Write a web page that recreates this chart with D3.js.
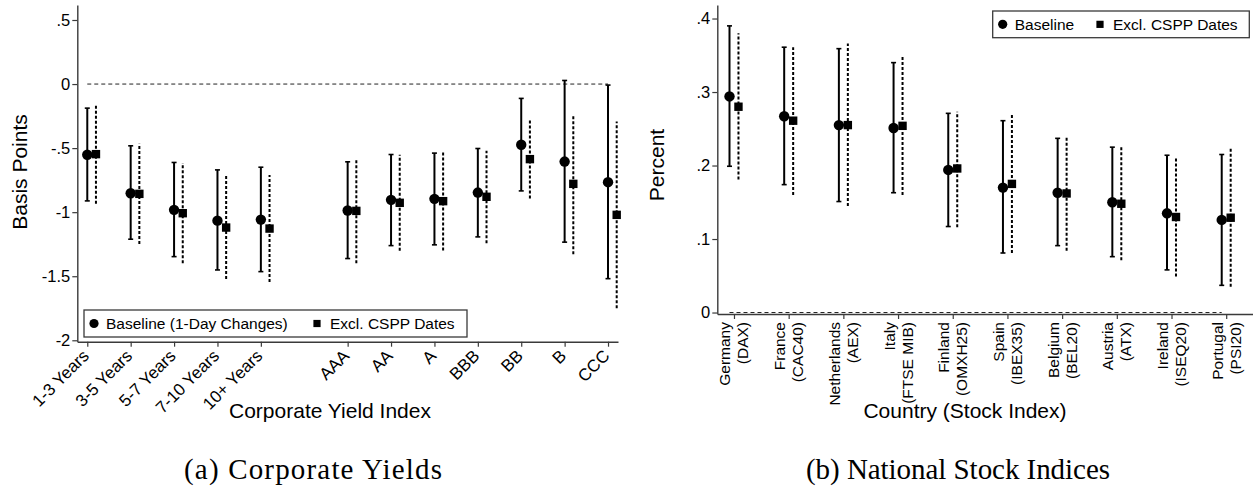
<!DOCTYPE html>
<html>
<head>
<meta charset="utf-8">
<script src="https://cdn.jsdelivr.net/npm/d3@7"></script>
<style>
  html, body { margin: 0; padding: 0; background: #fff; }
  svg { display: block; }
  .tick text { font-family: "Liberation Sans", Arial, sans-serif; fill: #000; }
</style>
</head>
<body>
<svg id="chart" width="1253" height="501"></svg>
<script>
// ---------- Panel (a): corporate yield indices ----------
const maturities = ["1-3 Years", "3-5 Years", "5-7 Years", "7-10 Years", "10+ Years"];
const ratings = ["AAA", "AA", "A", "BBB", "BB", "B", "CCC"];

const corpBase   = [-0.552, -0.852, -0.982, -1.066, -1.058, -0.987, -0.904, -0.896, -0.847, -0.474, -0.605, -0.766];
const corpBaseLo = [-0.912, -1.211, -1.347, -1.451, -1.464, -1.362, -1.261, -1.255, -1.193, -0.834, -1.234, -1.519];
const corpBaseHi = [-0.188, -0.482, -0.612, -0.670, -0.649, -0.607, -0.550, -0.539, -0.503, -0.112, 0.028, -0.008];
const corpExcl   = [-0.547, -0.857, -1.008, -1.120, -1.128, -0.990, -0.927, -0.914, -0.880, -0.586, -0.779, -1.021];
const corpExclLo = [-0.935, -1.248, -1.398, -1.521, -1.545, -1.398, -1.302, -1.300, -1.242, -0.894, -1.328, -1.750];
const corpExclHi = [-0.156, -0.466, -0.617, -0.716, -0.709, -0.589, -0.552, -0.531, -0.521, -0.279, -0.238, -0.292];

const corpTickValues = [0.5, 0, -0.5, -1, -1.5, -2];
const corpTickLabels = [".5", "0", "-.5", "-1", "-1.5", "-2"];

// ---------- Panel (b): national stock indices ----------
const countries = ["Germany", "France", "Netherlands", "Italy", "Finland", "Spain", "Belgium", "Austria", "Ireland", "Portugal"];
const stockIndices = ["(DAX)", "(CAC40)", "(AEX)", "(FTSE MIB)", "(OMXH25)", "(IBEX35)", "(BEL20)", "(ATX)", "(ISEQ20)", "(PSI20)"];

const stockBase   = [0.294, 0.267, 0.255, 0.251, 0.194, 0.170, 0.163, 0.150, 0.135, 0.126];
const stockBaseLo = [0.199, 0.174, 0.151, 0.163, 0.117, 0.081, 0.091, 0.076, 0.058, 0.037];
const stockBaseHi = [0.390, 0.361, 0.359, 0.340, 0.271, 0.261, 0.237, 0.225, 0.214, 0.215];
const stockExcl   = [0.280, 0.261, 0.255, 0.254, 0.196, 0.175, 0.162, 0.148, 0.130, 0.129];
const stockExclLo = [0.181, 0.160, 0.145, 0.160, 0.116, 0.081, 0.084, 0.071, 0.049, 0.035];
const stockExclHi = [0.380, 0.361, 0.366, 0.348, 0.273, 0.269, 0.240, 0.225, 0.211, 0.223];

const stockTickValues = [0, 0.1, 0.2, 0.3, 0.4];
const stockTickLabels = ["0", ".1", ".2", ".3", ".4"];

const legendA = ["Baseline (1-Day Changes)", "Excl. CSPP Dates"];
const legendB = ["Baseline", "Excl. CSPP Dates"];

// ---------- shared styling ----------
const SANS = "'Liberation Sans', Arial, Helvetica, sans-serif";
const SERIF = "'Liberation Serif', 'Times New Roman', serif";
const AXIS_COLOR = "#3a3a3a";
const INK = "#000";

const svg = d3.select("#chart");

function styleAxis(g) {
  g.select(".domain").attr("stroke", AXIS_COLOR).attr("stroke-width", 1.4);
  g.selectAll(".tick line").attr("stroke", AXIS_COLOR).attr("stroke-width", 1.2);
}

// Draw one pair of estimate series (circle + solid CI, square + dashed CI)
function drawSeries(g, xs, y, base, baseLo, baseHi, excl, exclLo, exclHi, offBase, offExcl) {
  const idx = d3.range(base.length);
  // baseline: solid capped intervals
  const b = g.append("g");
  b.selectAll("line.ci").data(idx).join("line")
    .attr("x1", i => xs(i) + offBase).attr("x2", i => xs(i) + offBase)
    .attr("y1", i => y(baseLo[i])).attr("y2", i => y(baseHi[i]))
    .attr("stroke", INK).attr("stroke-width", 2);
  ["lo", "hi"].forEach(k => {
    b.selectAll("line.cap" + k).data(idx).join("line")
      .attr("x1", i => xs(i) + offBase - 2.5).attr("x2", i => xs(i) + offBase + 2.5)
      .attr("y1", i => y(k === "lo" ? baseLo[i] : baseHi[i]))
      .attr("y2", i => y(k === "lo" ? baseLo[i] : baseHi[i]))
      .attr("stroke", INK).attr("stroke-width", 1.6);
  });
  // excluding CSPP dates: dashed intervals
  const e = g.append("g");
  e.selectAll("line").data(idx).join("line")
    .attr("x1", i => xs(i) + offExcl).attr("x2", i => xs(i) + offExcl)
    .attr("y1", i => y(exclLo[i])).attr("y2", i => y(exclHi[i]))
    .attr("stroke", INK).attr("stroke-width", 2).attr("stroke-dasharray", "3,2");
  // markers
  b.selectAll("circle").data(idx).join("circle")
    .attr("cx", i => xs(i) + offBase).attr("cy", i => y(base[i]))
    .attr("r", 5.2).attr("fill", INK);
  e.selectAll("rect").data(idx).join("rect")
    .attr("x", i => xs(i) + offExcl - 4.2).attr("y", i => y(excl[i]) - 4.2)
    .attr("width", 8.4).attr("height", 8.4).attr("fill", INK);
}

function drawLegend(g, x, y, w, h, labels, squareX) {
  g.append("rect").attr("x", x).attr("y", y).attr("width", w).attr("height", h)
    .attr("fill", "#fff").attr("stroke", AXIS_COLOR).attr("stroke-width", 1.3);
  const cy = y + h / 2;
  g.append("circle").attr("cx", x + 10).attr("cy", cy).attr("r", 4.6).attr("fill", INK);
  g.append("text").attr("x", x + 22).attr("y", cy).attr("dy", "0.36em")
    .attr("font-family", SANS).attr("font-size", 15.5).text(labels[0]);
  g.append("rect").attr("x", squareX - 3.6).attr("y", cy - 3.6).attr("width", 7.2).attr("height", 7.2).attr("fill", INK);
  g.append("text").attr("x", squareX + 13).attr("y", cy).attr("dy", "0.36em")
    .attr("font-family", SANS).attr("font-size", 15.5).text(labels[1]);
}

// ================= Panel (a) =================
{
  const g = svg.append("g");
  // slot positions: maturity buckets, one empty slot, then rating buckets
  const slots = maturities.map((d, i) => i).concat(ratings.map((d, i) => maturities.length + 1 + i));
  const labels = maturities.concat(ratings);
  const x = d3.scaleLinear().domain([-0.23, 12.23]).range([77.3, 618]);
  const xs = i => x(slots[i]);
  const y = d3.scaleLinear().domain([-2.011, 0.617]).range([341.7, 5]);

  // y axis
  const ya = g.append("g").attr("transform", "translate(77.3,0)")
    .call(d3.axisLeft(y).tickValues(corpTickValues).tickSize(5).tickSizeOuter(0)
      .tickFormat((d, i) => corpTickLabels[i]));
  styleAxis(ya);
  ya.selectAll(".tick text").attr("font-size", 16.5).attr("x", -7);

  // x axis
  const xa = g.append("g").attr("transform", "translate(0,341.7)")
    .call(d3.axisBottom(x).tickValues(slots).tickSize(5).tickSizeOuter(0).tickFormat(""));
  styleAxis(xa);
  xa.selectAll(".tick").append("text")
    .attr("transform", "translate(-2,11) rotate(-45)")
    .attr("text-anchor", "end").attr("dy", "0.35em")
    .attr("font-family", SANS).attr("font-size", 17).attr("fill", INK)
    .text((d, i) => labels[i]);

  // zero reference line
  g.append("line").attr("x1", xs(0)).attr("x2", xs(labels.length - 1))
    .attr("y1", y(0)).attr("y2", y(0))
    .attr("stroke", "#222").attr("stroke-width", 1).attr("stroke-dasharray", "4,3");

  drawSeries(g, xs, y, corpBase, corpBaseLo, corpBaseHi, corpExcl, corpExclLo, corpExclHi, 0, x(0.2) - x(0));

  drawLegend(g, 84, 310, 383, 27, legendA, 317);

  g.append("text").attr("transform", "translate(27,172) rotate(-90)")
    .attr("text-anchor", "middle").attr("font-family", SANS).attr("font-size", 21).text("Basis Points");
  g.append("text").attr("x", 330).attr("y", 418).attr("text-anchor", "middle")
    .attr("font-family", SANS).attr("font-size", 21).text("Corporate Yield Index");
  g.append("text").attr("x", 313).attr("y", 479).attr("text-anchor", "middle")
    .attr("font-family", SERIF).attr("font-size", 29)
    .attr("textLength", 258).attr("lengthAdjust", "spacing").text("(a) Corporate Yields");
}

// ================= Panel (b) =================
{
  const g = svg.append("g");
  const x = d3.scaleLinear().domain([-0.305, 9.49]).range([717.3, 1253]);
  const xs = i => x(i);
  const y = d3.scaleLinear().domain([-0.002, 0.4184]).range([314, 5]);

  const ya = g.append("g").attr("transform", "translate(717.3,0)")
    .call(d3.axisLeft(y).tickValues(stockTickValues).tickSize(5).tickSizeOuter(0)
      .tickFormat((d, i) => stockTickLabels[i]));
  styleAxis(ya);
  ya.selectAll(".tick text").attr("font-size", 16.5).attr("x", -7);

  const xa = g.append("g").attr("transform", "translate(0,314)")
    .call(d3.axisBottom(x).tickValues(d3.range(countries.length)).tickSize(5).tickSizeOuter(0).tickFormat(""));
  styleAxis(xa);
  const lab = xa.selectAll(".tick").append("g").attr("transform", "translate(0,8) rotate(-90)");
  lab.append("text").attr("text-anchor", "end").attr("x", 0).attr("y", -4)
    .attr("font-family", SANS).attr("font-size", 15.5).attr("fill", INK)
    .text((d, i) => countries[i]);
  lab.append("text").attr("text-anchor", "end").attr("x", 0).attr("y", 14)
    .attr("font-family", SANS).attr("font-size", 15.5).attr("fill", INK)
    .text((d, i) => stockIndices[i]);

  const off = x(0.082) - x(0);
  g.append("line").attr("x1", xs(0) - off).attr("x2", xs(countries.length - 1) - off)
    .attr("y1", y(0)).attr("y2", y(0))
    .attr("stroke", "#222").attr("stroke-width", 1).attr("stroke-dasharray", "4,3");

  drawSeries(g, xs, y, stockBase, stockBaseLo, stockBaseHi, stockExcl, stockExclLo, stockExclHi, -off, off);

  drawLegend(g, 992.7, 11, 256.6, 26.7, legendB, 1100);

  g.append("text").attr("transform", "translate(664,165) rotate(-90)")
    .attr("text-anchor", "middle").attr("font-family", SANS).attr("font-size", 21).text("Percent");
  g.append("text").attr("x", 965).attr("y", 418).attr("text-anchor", "middle")
    .attr("font-family", SANS).attr("font-size", 21).text("Country (Stock Index)");
  g.append("text").attr("x", 958).attr("y", 479).attr("text-anchor", "middle")
    .attr("font-family", SERIF).attr("font-size", 29)
    .attr("textLength", 304).attr("lengthAdjust", "spacing").text("(b) National Stock Indices");
}
</script>
</body>
</html>
